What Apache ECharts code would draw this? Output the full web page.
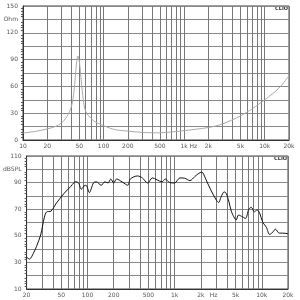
<!DOCTYPE html>
<html>
<head>
<meta charset="utf-8">
<script src="https://cdn.jsdelivr.net/npm/echarts@6/dist/echarts.min.js"></script>
<style>
  html, body { margin: 0; padding: 0; background: #fff; }
  #chart { width: 300px; height: 300px; }
</style>
</head>
<body>
<div id="chart"></div>
<script>
// impedance curve (top)
const impFreq = [10, 15, 20, 25, 30, 35, 40, 43, 46, 48, 50, 53, 56, 60, 70, 80, 100, 140, 200, 300, 500, 700, 1000, 2000, 3000, 5000, 7000, 10000, 15000, 20000];
const impOhm  = [7.8, 10, 12.5, 15, 19, 26, 38, 55, 85, 94, 88, 65, 45, 32, 24, 20, 16, 11.5, 10, 8.5, 8, 9, 10.5, 14, 18, 27, 35, 45, 58, 72];

// SPL curve (bottom)
const splFreq = [20, 21.6, 24, 26, 29, 32, 34, 38, 44, 54, 64, 70, 73, 79, 85, 94, 98, 105, 117, 126, 144, 158, 172, 185, 200, 215, 250, 290, 310, 375, 426, 490, 555, 717, 780, 880, 1000, 1150, 1300, 1500, 1700, 1900, 2030, 2100, 2300, 2600, 3000, 3200, 3400, 3700, 3900, 4200, 4500, 5100, 5400, 6000, 6500, 7100, 7600, 8200, 8800, 9400, 10300, 11300, 12300, 13500, 14300, 15900, 17300, 20000];
const splDb   = [34, 32.5, 37, 42, 50.6, 64, 68, 68.5, 74.6, 82, 87, 90, 90.7, 89.7, 85, 88, 87.5, 82.5, 89.7, 90.6, 88, 90.6, 89.7, 92.7, 89.7, 92.7, 90.5, 88, 92.7, 95, 93.5, 89.7, 93.5, 90.6, 92.7, 90, 89.7, 93.5, 93.3, 91.5, 94.5, 97, 97.7, 97.5, 92, 84.5, 77, 75, 79, 83, 82, 75.6, 68, 62, 65.6, 64.3, 63, 70, 71.4, 68, 69.4, 67.4, 60, 56.4, 51, 53, 55, 52, 52, 51.6];

// grid lines and tick labels
const topGrid = [10, 20, 30, 40, 50, 60, 70, 80, 90, 100, 200, 300, 400, 500, 600, 700, 800, 900, 1000, 2000, 3000, 4000, 5000, 6000, 7000, 8000, 9000, 10000, 20000];
const topLabels = [10, 20, 50, 100, 200, 500, 1000, 1300, 2000, 5000, 10000, 20000];
const botGrid = [20, 30, 40, 50, 60, 70, 80, 90, 100, 200, 300, 400, 500, 600, 700, 800, 900, 1000, 2000, 3000, 4000, 5000, 6000, 7000, 8000, 9000, 10000, 20000];
const botLabels = [20, 50, 100, 200, 500, 1000, 2000, 2800, 5000, 10000, 20000];

const chart = echarts.init(document.getElementById('chart'));

function fmtHz(hzAt) {
  return function (v) {
    if (Math.abs(v - hzAt) < 1) return 'Hz';
    if (v >= 1000) return (v / 1000) + 'k';
    return String(v);
  };
}

const labelStyle = { fontSize: 6, color: '#555', fontFamily: 'DejaVu Sans' };

function xAxisFor(gridIndex, min, max, grid, labels, hzAt) {
  return {
    type: 'log', gridIndex: gridIndex, min: min, max: max, logBase: 10,
    axisLine: { show: true, lineStyle: { color: '#333', width: 1 } },
    axisTick: { show: false, customValues: grid },
    axisLabel: Object.assign({ customValues: labels, formatter: fmtHz(hzAt), margin: 3 }, labelStyle),
    splitLine: { show: true, lineStyle: { color: '#777', width: 1 } }
  };
}

function yAxisFor(gridIndex, min, max, interval, unitAt, unit, step, top) {
  return {
    type: 'value', gridIndex: gridIndex, min: min, max: max, interval: interval,
    axisLine: { show: true, lineStyle: { color: '#333', width: 1 } },
    axisTick: { show: false },
    minorTick: { show: true, splitNumber: 5, length: 2, lineStyle: { color: '#555' } },
    axisLabel: Object.assign({
      margin: 5,
      formatter: function (v) {
        if (v === unitAt) return unit;
        return ((v - min) % step === 0) ? String(v) : '';
      }
    }, labelStyle),
    splitLine: { show: true, lineStyle: { color: '#888', width: 1 } }
  };
}

const option = {
  animation: false,
  grid: [
    { left: 23, right: 11, top: 6, height: 134, show: true, borderColor: '#444', borderWidth: 1 },
    { left: 22, right: 12, top: 156, height: 133, show: true, borderColor: '#444', borderWidth: 1 }
  ],
  xAxis: [
    xAxisFor(0, 10, 20000, topGrid, topLabels, 1300),
    xAxisFor(1, 20, 20000, botGrid, botLabels, 2800)
  ],
  yAxis: [
    yAxisFor(0, 0, 150, 15, 135, 'Ohm', 30),
    yAxisFor(1, 10, 110, 10, 100, 'dBSPL', 20)
  ],
  graphic: [
    { type: 'text', right: 12, top: 6, style: { text: 'CLIO', fontSize: 5, fontWeight: 'bold', fill: '#333', fontFamily: 'DejaVu Sans' } },
    { type: 'text', right: 13, top: 156, style: { text: 'CLIO', fontSize: 5, fontWeight: 'bold', fill: '#333', fontFamily: 'DejaVu Sans' } }
  ],
  series: [
    {
      type: 'line', xAxisIndex: 0, yAxisIndex: 0, showSymbol: false, smooth: 0.3,
      lineStyle: { color: '#a8a8a8', width: 1 },
      data: impFreq.map((f, i) => [f, impOhm[i]])
    },
    {
      type: 'line', xAxisIndex: 1, yAxisIndex: 1, showSymbol: false, smooth: 0.3,
      lineStyle: { color: '#111', width: 1 },
      data: splFreq.map((f, i) => [f, splDb[i]])
    }
  ]
};

chart.setOption(option);
</script>
</body>
</html>
